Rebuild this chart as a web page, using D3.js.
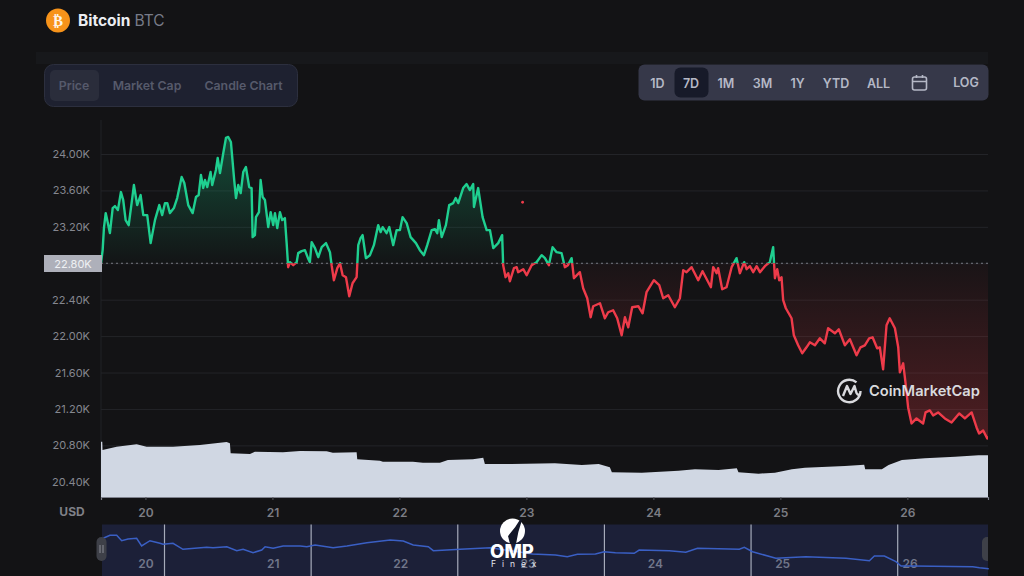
<!DOCTYPE html>
<html>
<head>
<meta charset="utf-8">
<script src="https://cdn.jsdelivr.net/npm/d3@7"></script>
<style>
    html, body { margin: 0; padding: 0; background: #131315; overflow: hidden; }
    svg { display: block; }
    text { font-family: Inter, "Noto Sans", sans-serif; }
</style>
</head>
<body>
<script>
//data
var yTicks = [20400, 20800, 21200, 21600, 22000, 22400, 22800, 23200, 23600, 24000];
var dayTicks = [20, 21, 22, 23, 24, 25, 26];
var navGridDays = [20, 21, 22, 23, 24, 25];
var basePrice = 22800;
var strayPoint = [22.97, 23470];

var priceDays = [19.65,19.663,19.673,19.687,19.699,19.72,19.742,19.76,19.783,19.807,19.825,19.844,19.868,19.891,19.909,19.935,19.962,19.983,20.014,20.041,20.075,20.109,20.132,20.154,20.172,20.193,20.224,20.25,20.285,20.306,20.337,20.372,20.398,20.419,20.437,20.455,20.469,20.487,20.513,20.526,20.555,20.569,20.587,20.613,20.634,20.652,20.673,20.699,20.713,20.731,20.75,20.77,20.791,20.817,20.836,20.844,20.862,20.87,20.894,20.907,20.923,20.941,20.967,20.986,21.006,21.02,21.038,21.059,21.077,21.098,21.112,21.124,21.138,21.164,21.191,21.203,21.23,21.256,21.28,21.295,21.309,21.335,21.361,21.388,21.422,21.453,21.466,21.484,21.511,21.532,21.553,21.579,21.605,21.631,21.663,21.676,21.694,21.71,21.736,21.768,21.799,21.833,21.852,21.868,21.899,21.92,21.951,21.978,22.004,22.025,22.057,22.088,22.13,22.161,22.193,22.219,22.254,22.28,22.298,22.311,22.333,22.366,22.392,22.424,22.443,22.463,22.502,22.529,22.555,22.581,22.587,22.62,22.655,22.687,22.713,22.739,22.778,22.809,22.817,22.836,22.857,22.87,22.902,22.923,22.935,22.975,23.002,23.041,23.08,23.12,23.146,23.177,23.206,23.238,23.277,23.303,23.327,23.356,23.374,23.421,23.447,23.479,23.506,23.526,23.579,23.618,23.644,23.683,23.715,23.75,23.776,23.802,23.833,23.881,23.915,23.946,24.004,24.046,24.077,24.117,24.169,24.209,24.235,24.261,24.301,24.353,24.387,24.453,24.471,24.498,24.51,24.542,24.576,24.616,24.655,24.681,24.715,24.734,24.76,24.786,24.813,24.839,24.878,24.917,24.943,24.957,24.975,24.991,25.009,25.022,25.043,25.088,25.106,25.14,25.172,25.206,25.232,25.272,25.311,25.35,25.376,25.429,25.46,25.508,25.547,25.6,25.631,25.665,25.699,25.726,25.762,25.783,25.809,25.836,25.861,25.902,25.928,25.941,25.967,25.986,26.006,26.033,26.072,26.124,26.143,26.177,26.203,26.242,26.295,26.348,26.408,26.453,26.506,26.545,26.565,26.597,26.629,26.635];
var prices = [22800,22945,23186,23351,23274,23131,23406,23428,23384,23582,23494,23274,23219,23461,23659,23439,23549,23329,23329,23021,23274,23439,23329,23461,23461,23351,23406,23516,23747,23681,23439,23351,23527,23549,23769,23626,23714,23637,23802,23659,23824,23956,23791,24011,24176,24187,24132,23714,23516,23659,23571,23802,23857,23637,23626,23087,23109,23307,23362,23714,23527,23494,23197,23362,23219,23351,23186,23362,23274,23296,23021,22757,22812,22779,22812,22911,22933,22944,22856,22812,23032,22966,22867,22977,23021,22922,22779,22614,22746,22801,22669,22647,22438,22581,22647,22999,23076,23109,22856,22889,22999,23219,23142,23197,23131,23197,22999,23164,23164,23307,23241,23087,23021,22944,22889,22999,23164,23175,23131,23274,23087,23219,23439,23461,23516,23461,23626,23670,23604,23670,23417,23626,23307,23164,23164,22966,23021,23109,22779,22647,22691,22603,22746,22757,22702,22735,22669,22779,22812,22889,22856,22779,22977,22922,22911,22757,22779,22856,22636,22702,22526,22416,22207,22328,22361,22196,22262,22284,22196,22009,22207,22097,22317,22328,22251,22482,22614,22559,22416,22449,22317,22416,22724,22702,22757,22614,22713,22537,22757,22691,22746,22515,22537,22757,22856,22691,22812,22735,22768,22702,22768,22702,22768,22812,22977,22636,22735,22614,22647,22394,22306,22196,22009,21899,21811,21877,21932,21899,21976,21921,22086,22031,22075,21899,21965,21789,21877,21899,21976,21987,21866,21877,21635,22119,22196,22086,21877,21602,21701,21481,21217,21041,21096,21041,21162,21184,21129,21162,21096,21052,21151,21096,21162,20997,20931,20964,20876,20900];

var volumeDays = [19.65,19.66,19.662,19.773,19.931,20.009,20.217,20.429,20.639,20.665,20.671,20.823,20.862,21.083,21.217,21.427,21.476,21.663,21.668,21.846,21.87,22.106,22.185,22.319,22.382,22.579,22.66,22.673,22.886,23.224,23.437,23.569,23.657,23.673,23.909,24.198,24.327,24.513,24.657,24.67,24.828,24.957,25.091,25.193,25.508,25.66,25.668,25.799,25.852,25.957,26.138,26.376,26.561,26.635];
var volumes = [55.3,55.3,47,50.3,52.7,50.3,50.3,52,55,53.7,43.7,43,45.3,44.7,46,45.7,44.3,44.7,37.7,36.3,35.3,35.3,34.3,34.3,37,37.7,39.3,33,33,33.7,32,33,29.7,24.7,24.3,26.3,27.7,27,28.7,24.7,23.3,24.3,27.7,29.3,31,32.3,27.7,27.7,32,37,38.7,40.3,41.7,41.7];

var navDays = [19.582,19.628,19.674,19.708,19.751,19.81,19.844,19.901,19.969,19.99,20.058,20.126,20.288,20.331,20.425,20.493,20.536,20.604,20.663,20.686,20.741,20.809,20.925,20.971,21.027,21.15,21.244,21.38,21.539,21.628,21.696,21.799,21.833,22.017,22.222,22.509,22.666,22.747,22.816,22.939,22.998,23.075,23.203,23.237,23.442,23.555,23.635,23.92,23.954,24.01,24.169,24.374,24.647,24.807,24.841,24.909,24.988,25.023,25.102,25.512,25.558,25.621];
var navPrices = [23865,24158,24158,23631,23797,23865,23114,23631,23378,23280,23378,22793,22988,22949,23046,22656,22793,22461,22724,23046,22890,23114,23114,23046,23212,22949,23114,23436,23699,23602,23212,23046,22656,22793,22949,22335,22237,22071,22305,22335,22559,22461,22403,22724,22656,22500,22890,22793,22988,22559,21915,22071,21915,21681,22139,22139,21584,21164,21164,21096,20999,20900];

var tabLabels = ["Price", "Market Cap", "Candle Chart"];
var rangeLabels = ["1D", "7D", "1M", "3M", "1Y", "YTD", "ALL"];

var width = 1024;
var height = 576;
var chartLeft = 101;
var chartRight = 988;
var chartBottom = 497;

var svg = d3.select("body").append("svg")
    .attr("width", width)
    .attr("height", height);

var defs = svg.append("defs");

//scales
var x = d3.scaleLinear().domain([19.65, 26.635]).range([chartLeft, chartRight]);
var y = d3.scaleLinear().domain([20400, 24000]).range([481.8, 154]);
var yVolume = d3.scaleLinear().domain([0, 60]).range([chartBottom, chartBottom - 60]);
var xNavGrid = d3.scaleLinear().domain([20, 25]).range([164.5, 897.7]);
var xNavLabel = d3.scaleLinear().domain([20, 26]).range([146, 910]);
var yNav = d3.scaleLinear().domain([20900, 24187]).range([568.7, 535]);

//header
svg.append("rect").attr("x", 36).attr("y", 52).attr("width", 952).attr("height", 12).attr("fill", "#17181b");
svg.append("circle").attr("cx", 58).attr("cy", 20.5).attr("r", 12).attr("fill", "#f7931a");
svg.append("text").attr("x", 58).attr("y", 26).attr("text-anchor", "middle")
    .style("font-family", "DejaVu Sans").style("font-size", "15px").style("font-weight", 700)
    .attr("fill", "#fff").attr("opacity", 0.9).text("₿");
var title = svg.append("text").attr("x", 78).attr("y", 26).style("font-size", "15.5px");
title.append("tspan").attr("fill", "#eceef2").style("font-weight", 700).text("Bitcoin");
title.append("tspan").attr("fill", "#777b88").attr("dx", 4).text("BTC");

//left tab group
svg.append("rect").attr("x", 44.5).attr("y", 64.5).attr("width", 253).attr("height", 42).attr("rx", 9)
    .attr("fill", "#1e2130").attr("stroke", "#2c2f3e");
svg.append("rect").attr("x", 50).attr("y", 70).attr("width", 49).attr("height", 31).attr("rx", 5).attr("fill", "#2a2d3b");
var tabCenters = [74, 147, 243.5];
svg.selectAll(".tab").data(tabLabels).enter().append("text")
    .attr("class", "tab")
    .attr("x", function(d, i){return tabCenters[i];})
    .attr("y", 89.5)
    .attr("text-anchor", "middle")
    .attr("fill", "#565a6b")
    .style("font-size", "12.3px")
    .style("font-weight", 600)
    .text(function(d){return d;});

//right range group
svg.append("rect").attr("x", 638.5).attr("y", 64.5).attr("width", 350).attr("height", 36).attr("rx", 6).attr("fill", "#363849");
svg.append("rect").attr("x", 674.5).attr("y", 67.5).attr("width", 34).attr("height", 30).attr("rx", 6).attr("fill", "#171a29");
var rangeCenters = [657.5, 691, 726, 762.5, 797.5, 836, 878.5];
svg.selectAll(".range").data(rangeLabels).enter().append("text")
    .attr("class", "range")
    .attr("x", function(d, i){return rangeCenters[i];})
    .attr("y", 87.5)
    .attr("text-anchor", "middle")
    .attr("fill", "#b5b8c6")
    .style("font-size", "12.5px")
    .style("font-weight", 600)
    .text(function(d){return d;});
svg.append("text").attr("x", 966).attr("y", 87).attr("text-anchor", "middle").attr("fill", "#b5b8c6")
    .style("font-size", "12.5px").style("font-weight", 600).text("LOG");

//calendar icon
var cal = svg.append("g").attr("fill", "none").attr("stroke", "#b5b8c6").attr("stroke-width", 1.6);
cal.append("rect").attr("x", 912.5).attr("y", 77).attr("width", 14).attr("height", 13).attr("rx", 2);
cal.append("path").attr("d", "M912.5 81.5H926.5M916.5 75V78M922.5 75V78");

//y axis with grid lines, the base price gets its own label below
var yAxis = d3.axisLeft(y)
    .tickValues(yTicks)
    .tickSize(chartLeft - chartRight)
    .tickPadding(11)
    .tickFormat(function(d){return d == basePrice ? "" : d3.format(".2f")(d / 1000) + "K";});

var yAxisGroup = svg.append("g")
    .attr("transform", "translate(" + chartLeft + ",0)")
    .call(yAxis);
yAxisGroup.select(".domain").remove();
yAxisGroup.selectAll("line").attr("stroke", "#232428");
yAxisGroup.selectAll("text").attr("fill", "#85878f").style("font-size", "11px").style("font-family", "Inter");

svg.append("line").attr("x1", chartLeft).attr("x2", chartLeft).attr("y1", 120).attr("y2", chartBottom).attr("stroke", "#212226");

//split line and area at the base price
var baseY = y(basePrice);
defs.append("clipPath").attr("id", "clipUp").append("rect")
    .attr("x", chartLeft).attr("y", 100).attr("width", chartRight - chartLeft).attr("height", baseY - 100);
defs.append("clipPath").attr("id", "clipDown").append("rect")
    .attr("x", chartLeft).attr("y", baseY).attr("width", chartRight - chartLeft).attr("height", chartBottom - baseY);

var gradUp = defs.append("linearGradient").attr("id", "gradUp")
    .attr("gradientUnits", "userSpaceOnUse").attr("x1", 0).attr("x2", 0).attr("y1", y(24187)).attr("y2", baseY);
gradUp.append("stop").attr("offset", 0).attr("stop-color", "#16c784").attr("stop-opacity", 0.32);
gradUp.append("stop").attr("offset", 1).attr("stop-color", "#16c784").attr("stop-opacity", 0.01);

var gradDown = defs.append("linearGradient").attr("id", "gradDown")
    .attr("gradientUnits", "userSpaceOnUse").attr("x1", 0).attr("x2", 0).attr("y1", baseY).attr("y2", y(20876));
gradDown.append("stop").attr("offset", 0).attr("stop-color", "#ea3943").attr("stop-opacity", 0.03);
gradDown.append("stop").attr("offset", 1).attr("stop-color", "#ea3943").attr("stop-opacity", 0.28);

var area = d3.area()
    .x(function(d){return x(priceDays[d]);})
    .y0(baseY)
    .y1(function(d){return y(prices[d]);});

var line = d3.line()
    .x(function(d){return x(priceDays[d]);})
    .y(function(d){return y(prices[d]);});

var priceIndex = d3.range(prices.length);

svg.append("path").datum(priceIndex).attr("d", area).attr("fill", "url(#gradUp)").attr("clip-path", "url(#clipUp)");
svg.append("path").datum(priceIndex).attr("d", area).attr("fill", "url(#gradDown)").attr("clip-path", "url(#clipDown)");

//base line
svg.append("line").attr("x1", chartLeft).attr("x2", chartRight).attr("y1", baseY).attr("y2", baseY)
    .attr("stroke", "#777983").attr("stroke-dasharray", "2 3");

svg.append("path").datum(priceIndex).attr("d", line).attr("fill", "none")
    .attr("stroke", "#1fcf90").attr("stroke-width", 2.4).attr("stroke-linejoin", "round").attr("clip-path", "url(#clipUp)");
svg.append("path").datum(priceIndex).attr("d", line).attr("fill", "none")
    .attr("stroke", "#ee3b4a").attr("stroke-width", 2.4).attr("stroke-linejoin", "round").attr("clip-path", "url(#clipDown)");

svg.append("circle").attr("cx", x(strayPoint[0])).attr("cy", y(strayPoint[1])).attr("r", 1.4).attr("fill", "#ee3b4a");

//base price label
svg.append("rect").attr("x", 44).attr("y", 255).attr("width", 58).attr("height", 17).attr("fill", "#aeb0ba");
svg.append("text").attr("x", 73).attr("y", 268).attr("text-anchor", "middle").attr("fill", "#eef0f4")
    .style("font-size", "11px").text(d3.format(".2f")(basePrice / 1000) + "K");

//volume
var volumeArea = d3.area()
    .x(function(d){return x(volumeDays[d]);})
    .y0(yVolume(0))
    .y1(function(d){return yVolume(volumes[d]);});

svg.append("path").datum(d3.range(volumes.length)).attr("d", volumeArea).attr("fill", "#d0d7e3");

//x axis
var xAxis = d3.axisBottom(x)
    .tickValues(dayTicks)
    .tickSize(3)
    .tickPadding(8)
    .tickFormat(d3.format("d"));

var xAxisGroup = svg.append("g")
    .attr("transform", "translate(0," + chartBottom + ")")
    .call(xAxis);
xAxisGroup.select(".domain").attr("stroke", "#7f828e").attr("stroke-width", 1.2);
xAxisGroup.selectAll("line").attr("stroke", "#55565c");
xAxisGroup.selectAll("text").attr("fill", "#7c7d84").style("font-size", "12px").style("font-weight", 600).style("font-family", "Inter");

svg.append("text").attr("x", 72).attr("y", 516).attr("text-anchor", "middle").attr("fill", "#7f8087")
    .style("font-size", "12px").style("font-weight", 700).text("USD");

//coinmarketcap watermark
var mark = svg.append("g").attr("fill", "none").attr("stroke", "#d9dade");
mark.append("path").attr("stroke-width", 2.4)
    .attr("d", "M860.5 391a11.2 11.2 0 1 1-4-8.6");
mark.append("path").attr("stroke-width", 2.4).attr("stroke-linejoin", "round")
    .attr("d", "M843 396L847 386L850.5 394L854.5 386L856.5 393Q858 396 860.5 394");
svg.append("text").attr("x", 869).attr("y", 396).attr("fill", "#d9dade")
    .style("font-size", "14.7px").style("font-weight", 600).text("CoinMarketCap");

//navigator
svg.append("rect").attr("x", chartLeft + 1).attr("y", 524.5).attr("width", chartRight - chartLeft - 1).attr("height", height - 524.5).attr("fill", "#1c2038");

svg.selectAll(".navGrid").data(navGridDays).enter().append("line")
    .attr("class", "navGrid")
    .attr("x1", function(d){return xNavGrid(d);})
    .attr("x2", function(d){return xNavGrid(d);})
    .attr("y1", 524.5)
    .attr("y2", height)
    .attr("stroke", "#a6abba")
    .attr("stroke-width", 1.2);

svg.selectAll(".navLabel").data(dayTicks).enter().append("text")
    .attr("class", "navLabel")
    .attr("x", function(d){return xNavLabel(d);})
    .attr("y", 568)
    .attr("text-anchor", "middle")
    .attr("fill", "#71768a")
    .style("font-size", "12px")
    .style("font-weight", 600)
    .text(function(d){return d;});

var navLine = d3.line()
    .x(function(d){return xNavGrid(navDays[d]);})
    .y(function(d){return yNav(navPrices[d]);});

svg.append("path").datum(d3.range(navPrices.length)).attr("d", navLine).attr("fill", "none")
    .attr("stroke", "#3a5fc4").attr("stroke-width", 1.5);

//navigator handles
svg.append("rect").attr("x", 96.5).attr("y", 537).attr("width", 10).attr("height", 24).attr("rx", 5).attr("fill", "#3e4048");
svg.append("path").attr("d", "M100 545V553M103 545V553").attr("stroke", "#8b8d96").attr("stroke-width", 1);
svg.append("path").attr("d", "M988 537h-1a5 5 0 0 0-5 5v14a5 5 0 0 0 5 5h1z").attr("fill", "#3e4048");

//omp finex logo
var logo = svg.append("g");
logo.append("circle").attr("cx", 512.5).attr("cy", 531).attr("r", 12.5).attr("fill", "#fff");
logo.append("path").attr("d", "M521 518Q516 527 508 536L510 544L516 544Q518 531 522 520Z").attr("fill", "#131728");
logo.append("text").attr("x", 512).attr("y", 558).attr("text-anchor", "middle").attr("fill", "#fff")
    .style("font-size", "18.5px").style("font-weight", 800).text("OMP");
logo.append("text").attr("x", 491).attr("y", 566.5).attr("fill", "#e4e6ec")
    .style("font-size", "8.5px").style("letter-spacing", "6px").text("Finex");
</script>
</body>
</html>
